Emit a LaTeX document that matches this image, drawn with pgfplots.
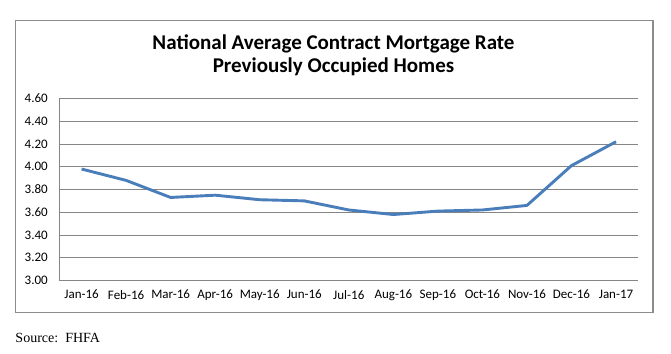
\documentclass[border=0pt]{standalone}
\usepackage{fontspec}
\setmainfont{Carlito}
\newfontfamily\srcfont{Liberation Serif}
\usepackage{pgfplots}
\pgfplotsset{compat=1.18}
\definecolor{linecol}{HTML}{4A7EBB}
\definecolor{gridcol}{HTML}{868686}
\definecolor{boxcol}{HTML}{8C8C8C}
\begin{document}
\begin{tikzpicture}
\path[use as bounding box] (0pt,0pt) rectangle (671pt,353pt);
\draw[boxcol, line width=1.4pt] (15.3pt,40.7pt) rectangle (652.8pt,332.3pt);
\node[anchor=base, font=\fontsize{21}{24}\selectfont\bfseries] at (333.5pt,303pt) {National Average Contract Mortgage Rate};
\node[anchor=base, font=\fontsize{21}{24}\selectfont\bfseries] at (333.5pt,280pt) {Previously Occupied Homes};
\node[anchor=base west, inner sep=0pt, font=\fontsize{14}{16}\selectfont\srcfont] at (15.3pt,10.7pt) {Source:\ \ FHFA};
\begin{axis}[
  at={(59.3pt,72.5pt)}, anchor=south west,
  scale only axis, width=579pt, height=182pt,
  xmin=-0.5, xmax=12.5, ymin=3, ymax=4.6,
  xtick={0,...,12},
  xticklabels={Jan-16,Feb-16,Mar-16,Apr-16,May-16,Jun-16,Jul-16,Aug-16,Sep-16,Oct-16,Nov-16,Dec-16,Jan-17},
  ytick={3,3.2,...,4.61},
  /pgf/number format/fixed, /pgf/number format/fixed zerofill, /pgf/number format/precision=2, /pgf/number format/assume math mode=true,
  yticklabel style={font=\fontsize{13}{15}\selectfont, xshift=-8pt},
  xticklabel style={font=\fontsize{13}{15}\selectfont, yshift=-6pt},
  major tick length=0pt,
  axis x line*=bottom, axis y line*=left,
  axis line style={gridcol, line width=0.8pt},
  ymajorgrids, grid style={gridcol, line width=0.8pt},
  clip=false,
]
\addplot[linecol, line width=2.9pt, line join=round, mark=none] coordinates {
(0,3.98) (1,3.88) (2,3.73) (3,3.75) (4,3.71) (5,3.70) (6,3.62) (7,3.58) (8,3.61) (9,3.62) (10,3.66) (11,4.01) (12,4.22)
};
\end{axis}
\end{tikzpicture}
\end{document}
